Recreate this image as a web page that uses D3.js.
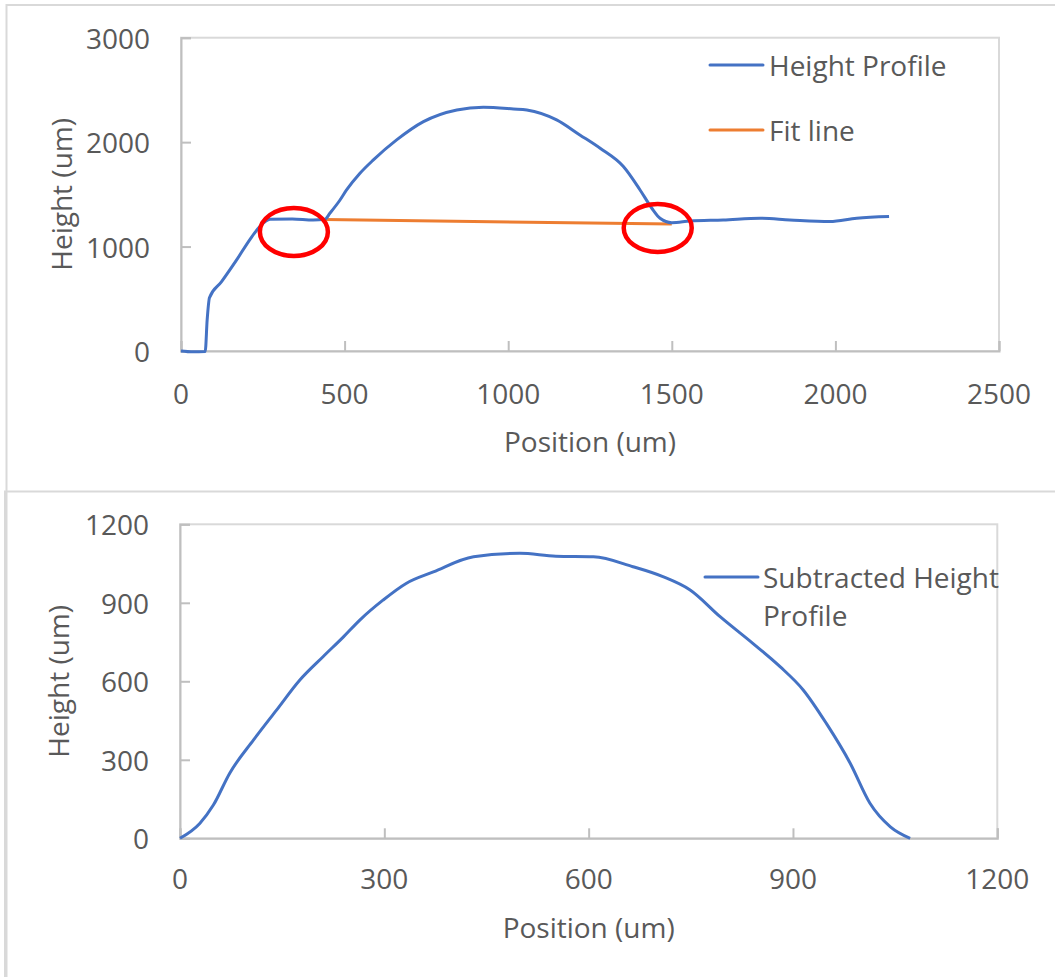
<!DOCTYPE html>
<html>
<head>
<meta charset="utf-8">
<script src="https://cdn.jsdelivr.net/npm/d3@7.9.0/dist/d3.min.js"></script>
<style>
  body { margin: 0; background: #fff; }
  text { font-family: "Open Sans", sans-serif; fill: #595959; }
</style>
</head>
<body>
<div id="chart"></div>
<script>
// ---- data ----
// top panel: raw height profile
const profileX = [0, 35, 74, 80, 87, 124, 170, 211, 241, 272, 340, 404, 440, 455, 486, 506, 547, 588, 659, 741, 843, 924, 1016, 1057, 1148, 1219, 1281, 1352, 1403, 1439, 1464, 1500, 1556, 1657, 1770, 1861, 1983, 2065, 2164];
const profileY = [0, -8, -4, 300, 510, 664, 872, 1070, 1191, 1261, 1265, 1255, 1262, 1319, 1446, 1542, 1702, 1830, 2021, 2196, 2308, 2334, 2318, 2308, 2213, 2069, 1941, 1766, 1542, 1367, 1271, 1229, 1245, 1255, 1271, 1255, 1239, 1271, 1287];
// fit line
const fitX = [440, 1500];
const fitY = [1258, 1217];
// red circled spots (data coords)
const ringX = [345, 1457];
const ringY = [1140, 1178];
const topXTicks = [0, 500, 1000, 1500, 2000, 2500];
const topYTicks = [0, 1000, 2000, 3000];

// bottom panel: subtracted profile
const subX = [0, 29, 49, 73, 108, 142, 176, 210, 240, 264, 298, 332, 372, 431, 499, 552, 607, 665, 709, 749, 793, 841, 881, 915, 949, 984, 1013, 1043, 1072];
const subY = [0, 57, 127, 249, 376, 491, 605, 694, 770, 834, 910, 974, 1018, 1076, 1089, 1078, 1076, 1038, 1000, 949, 847, 745, 656, 567, 439, 287, 134, 44, 0];
const botXTicks = [0, 300, 600, 900, 1200];
const botYTicks = [0, 300, 600, 900, 1200];

const BLUE = "#4472C4", ORANGE = "#ED7D31";
const FS = 28;

const svg = d3.select("#chart").append("svg")
    .attr("width", 1055)
    .attr("height", 977);

// chart frames
svg.append("path")
    .attr("d", "M6.5,1000 V5 H1060")
    .attr("fill", "none").attr("stroke", "#d9d9d9").attr("stroke-width", 2);
svg.append("path")
    .attr("d", "M5,1000 V491.5 H1060")
    .attr("fill", "none").attr("stroke", "#d9d9d9").attr("stroke-width", 2);

function panel(opt) {
    const x = d3.scaleLinear().domain(opt.xDomain).range([opt.left, opt.right]);
    const y = d3.scaleLinear().domain(opt.yDomain).range([opt.bottom, opt.top]);

    // plot area box
    svg.append("rect")
        .attr("x", opt.left).attr("y", opt.top)
        .attr("width", opt.right - opt.left).attr("height", opt.bottom - opt.top)
        .attr("fill", "none").attr("stroke", "#d9d9d9").attr("stroke-width", 2);

    // axes, inside ticks
    const gx = svg.append("g")
        .attr("transform", `translate(0,${opt.bottom})`)
        .call(d3.axisTop(x).tickValues(opt.xTicks).tickSize(10).tickFormat(""));
    const gy = svg.append("g")
        .attr("transform", `translate(${opt.left},0)`)
        .call(d3.axisRight(y).tickValues(opt.yTicks).tickSize(10).tickFormat(""));
    [gx, gy].forEach(g => {
        g.selectAll("path, line").attr("stroke", "#bfbfbf").attr("stroke-width", 2);
    });

    // tick labels
    svg.append("g").selectAll("text").data(opt.xTicks).join("text")
        .attr("x", d => x(d))
        .attr("y", opt.bottom + opt.xLabelOffset)
        .attr("text-anchor", "middle")
        .attr("dominant-baseline", "central")
        .attr("font-size", FS)
        .text(d => d);
    svg.append("g").selectAll("text").data(opt.yTicks).join("text")
        .attr("x", opt.left - 31)
        .attr("y", d => y(d))
        .attr("text-anchor", "end")
        .attr("dominant-baseline", "central")
        .attr("font-size", FS)
        .text(d => d);

    // axis titles
    svg.append("text")
        .attr("x", (opt.left + opt.right) / 2)
        .attr("y", opt.xTitleY)
        .attr("text-anchor", "middle")
        .attr("dominant-baseline", "central")
        .attr("font-size", FS)
        .text("Position (um)");
    svg.append("text")
        .attr("transform", `translate(${opt.yTitleX},${(opt.top + opt.bottom) / 2}) rotate(-90)`)
        .attr("text-anchor", "middle")
        .attr("dominant-baseline", "central")
        .attr("font-size", FS)
        .text("Height (um)");

    return { x, y };
}

function drawLine(sc, xs, ys, color, curve) {
    const pts = xs.map((d, i) => [d, ys[i]]);
    svg.append("path")
        .datum(pts)
        .attr("fill", "none")
        .attr("stroke", color)
        .attr("stroke-width", 3)
        .attr("stroke-linejoin", "round")
        .attr("d", d3.line().x(d => sc.x(d[0])).y(d => sc.y(d[1])).curve(curve));
}

// ---- top panel ----
const topSc = panel({
    xDomain: [0, 2500], yDomain: [0, 3000],
    left: 181, right: 999, top: 37.7, bottom: 351,
    xTicks: topXTicks, yTicks: topYTicks,
    xLabelOffset: 42, xTitleY: 441, yTitleX: 61
});
drawLine(topSc, fitX, fitY, ORANGE, d3.curveLinear);
drawLine(topSc, profileX, profileY, BLUE, d3.curveMonotoneX);

svg.append("g").selectAll("ellipse").data(ringX).join("ellipse")
    .attr("cx", d => topSc.x(d))
    .attr("cy", (d, i) => topSc.y(ringY[i]))
    .attr("rx", 34).attr("ry", 24)
    .attr("fill", "none")
    .attr("stroke", "#FF0000")
    .attr("stroke-width", 4.5);

// legend
const topLegend = [["Height Profile", BLUE], ["Fit line", ORANGE]];
topLegend.forEach(([name, color], i) => {
    const ly = 65 + i * 65;
    svg.append("line")
        .attr("x1", 710).attr("x2", 763).attr("y1", ly).attr("y2", ly)
        .attr("stroke", color).attr("stroke-width", 3).attr("stroke-linecap", "round");
    svg.append("text")
        .attr("x", 769).attr("y", ly)
        .attr("dominant-baseline", "central")
        .attr("font-size", FS)
        .text(name);
});

// ---- bottom panel ----
const botSc = panel({
    xDomain: [0, 1200], yDomain: [0, 1200],
    left: 180, right: 997.3, top: 524.3, bottom: 838.3,
    xTicks: botXTicks, yTicks: botYTicks,
    xLabelOffset: 40, xTitleY: 927, yTitleX: 58
});
drawLine(botSc, subX, subY, BLUE, d3.curveMonotoneX);

svg.append("line")
    .attr("x1", 705).attr("x2", 758).attr("y1", 577).attr("y2", 577)
    .attr("stroke", BLUE).attr("stroke-width", 3).attr("stroke-linecap", "round");
const lt = svg.append("text")
    .attr("x", 763).attr("y", 577)
    .attr("font-size", FS);
lt.append("tspan").attr("x", 763).attr("dominant-baseline", "central").text("Subtracted Height");
lt.append("tspan").attr("x", 763).attr("dy", 38).attr("dominant-baseline", "central").text("Profile");
</script>
</body>
</html>
